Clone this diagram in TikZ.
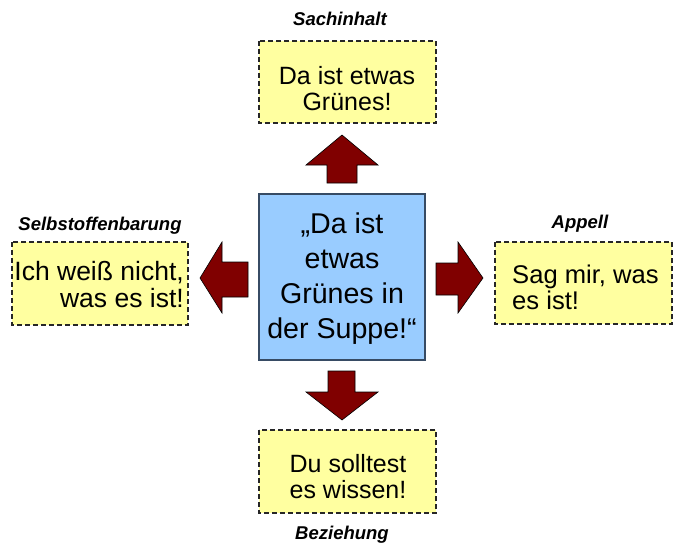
\documentclass[tikz,border=0pt]{standalone}
\usepackage{fontspec}
\setmainfont{Liberation Sans}
\definecolor{boxyellow}{RGB}{255,255,160}
\definecolor{boxblue}{RGB}{153,204,255}
\definecolor{boxborder}{RGB}{55,75,100}
\definecolor{arrowred}{RGB}{128,0,0}
\begin{document}
\begin{tikzpicture}[x=1pt,y=-1pt,
  msgbox/.style={draw=black!85,dash pattern=on 5pt off 3pt,line width=1.1pt,fill=boxyellow},
  centerbox/.style={draw=boxborder,line width=1.3pt,fill=boxblue},
  boxtext/.style={inner sep=0pt,font=\fontsize{25}{26}\selectfont},
  bigtext/.style={inner sep=0pt,font=\fontsize{28.6}{35}\selectfont,align=center},
  lbl/.style={inner sep=0pt,anchor=base,font=\fontsize{18.5}{20}\selectfont\bfseries\itshape},
  blockarrow/.style={draw=black,line width=0.6pt,fill=arrowred,line join=miter}]
\useasboundingbox (0,0) rectangle (676,556);
% boxes
\path[msgbox] (259,41) rectangle (436,123) coordinate (t);
\path[msgbox] (12,242) rectangle (188,325) coordinate (l);
\path[msgbox] (495,242) rectangle (672,324) coordinate (r);
\path[msgbox] (259,430) rectangle (436,513) coordinate (b);
\path[centerbox] (259,194) rectangle (425,360) coordinate (c);
% texts
\node[bigtext,anchor=north] (ct) at (342,213) {„Da ist\\etwas\\Grünes in\\der Suppe!“};
\node[boxtext,align=center,anchor=north] (tt) at (347,66) {Da ist etwas\\Grünes!};
\node[boxtext,font=\fontsize{26.5}{27}\selectfont,align=right,anchor=north east] (lt) at (184,261) {Ich weiß nicht,\\was es ist!};
\node[boxtext,font=\fontsize{25.6}{26}\selectfont,align=left,anchor=north west] (rt) at (512,265) {Sag mir, was\\es ist!};
\node[boxtext,align=center,anchor=north] (bt) at (348,454) {Du solltest\\es wissen!};
% labels
\node[lbl] (lt1) at (340,26) {Sachinhalt};
\node[lbl] (ll1) at (100,230) {Selbstoffenbarung};
\node[lbl] (lr1) at (580,228) {Appell};
\node[lbl] (lb1) at (342,539) {Beziehung};
% block arrows
\draw[blockarrow] (327,183) -- (327,165) -- (306,165) -- (342,135) -- (378,165) -- (357,165) -- (357,183) -- cycle;
\draw[blockarrow] (328,371) -- (328,392) -- (306,392) -- (342,420) -- (378,392) -- (355,392) -- (355,371) -- cycle;
\draw[blockarrow] (436,263) -- (458,263) -- (458,242) -- (483,278) -- (458,313) -- (458,295) -- (436,295) -- cycle;
\draw[blockarrow] (248,262) -- (222,262) -- (222,242) -- (200,278) -- (222,313) -- (222,297) -- (248,297) -- cycle;
\end{tikzpicture}
\end{document}
